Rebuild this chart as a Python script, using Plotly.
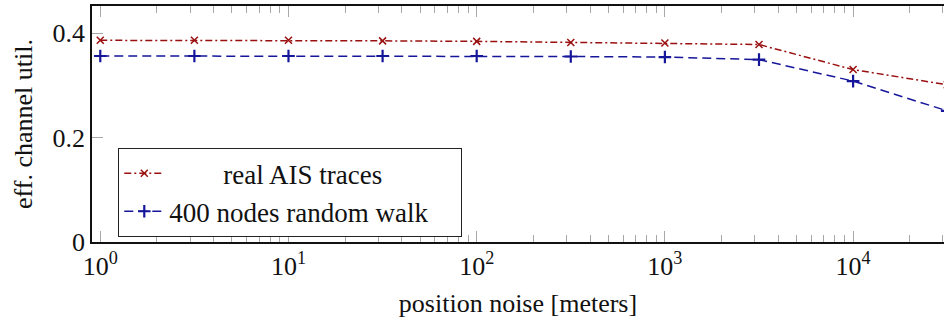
import plotly.graph_objects as go

# position noise levels (meters) and effective channel utilisation
noise_m = [1, 3.1623, 10, 31.623, 100, 316.23, 1000, 3162.3, 10000, 31623]
util_ais = [0.386, 0.386, 0.386, 0.385, 0.384, 0.382, 0.381, 0.378, 0.330, 0.301]
util_walk = [0.356, 0.356, 0.356, 0.356, 0.356, 0.355, 0.354, 0.349, 0.308, 0.251]

series_names = ["real AIS traces", "400 nodes random walk"]

x_tickvals = [1, 10, 100, 1000, 10000]
x_ticktext = ["10<sup>0</sup>", "10<sup>1</sup>", "10<sup>2</sup>", "10<sup>3</sup>", "10<sup>4</sup>"]
x_minor = [k * 10 ** e for e in range(0, 5) for k in range(2, 10)]
y_tickvals = [0, 0.2, 0.4]
y_ticktext = ["0", "0.2", "0.4"]

FONT = "Liberation Serif"
RED = "#9a1010"
BLUE = "#16169a"
TICK_GREY = "#a8a8a8"
NBSP = "\u00a0"

fig = go.Figure()
fig.add_trace(go.Scatter(
    x=noise_m, y=util_ais, name=NBSP * 8 + series_names[0], mode="lines+markers",
    line=dict(color=RED, width=1.5, dash="7px,3px,2px,3px"),
    marker=dict(symbol="x-thin-open", size=7, line=dict(color=RED, width=1.5)),
))
fig.add_trace(go.Scatter(
    x=noise_m, y=util_walk, name=series_names[1] + NBSP * 4, mode="lines+markers",
    line=dict(color=BLUE, width=1.5, dash="9px,5px"),
    marker=dict(symbol="cross-thin-open", size=9, line=dict(color=BLUE, width=2.2)),
))

fig.update_layout(
    width=944, height=325,
    margin=dict(l=92, r=0, t=6, b=83),
    plot_bgcolor="white", paper_bgcolor="white",
    font=dict(family=FONT, size=26, color="#111"),
    showlegend=True,
    legend=dict(
        x=0.0305, y=0.022, xanchor="left", yanchor="bottom",
        bgcolor="white", bordercolor="#222", borderwidth=1.3,
        font=dict(family=FONT, size=27, color="#111"),
        tracegroupgap=0, itemwidth=40,
    ),
)

fig.update_xaxes(
    type="log", range=[-0.044, 4.483],
    tickmode="array", tickvals=x_tickvals, ticktext=x_ticktext,
    ticks="inside", ticklen=11, tickwidth=1.2, tickcolor=TICK_GREY,
    minor=dict(tickmode="array", tickvals=x_minor, ticks="inside", ticklen=7,
               tickwidth=1.2, tickcolor=TICK_GREY, showgrid=False),
    showline=True, linecolor="#111", linewidth=1.5, mirror="allticks",
    showgrid=False, zeroline=False,
    title=dict(text="position noise [meters]", standoff=14,
               font=dict(family=FONT, size=26)),
    tickfont=dict(family=FONT, size=26),
)
fig.update_yaxes(
    range=[0, 0.4517],
    tickmode="array", tickvals=y_tickvals, ticktext=y_ticktext,
    ticks="inside", ticklen=11, tickwidth=1.2, tickcolor=TICK_GREY,
    showline=True, linecolor="#111", linewidth=1.5, mirror=False,
    showgrid=False, zeroline=False,
    title=dict(text="eff. channel util.", standoff=12,
               font=dict(family=FONT, size=26)),
    tickfont=dict(family=FONT, size=26),
)

fig.write_html("out.html")
